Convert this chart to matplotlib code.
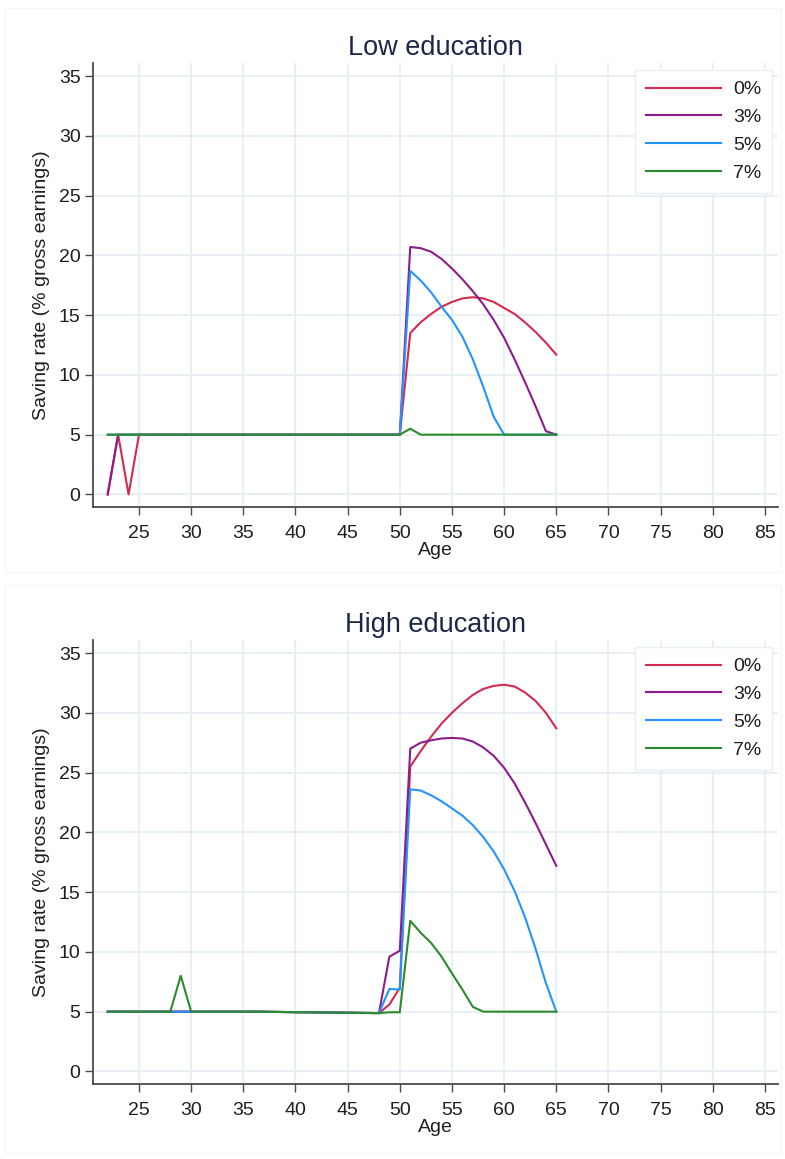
import matplotlib
matplotlib.use("Agg")
import matplotlib.pyplot as plt
from matplotlib.patches import Rectangle

plt.rcParams['font.family'] = ['Liberation Sans', 'DejaVu Sans']

# Age grid (annual, 22 to 65)
ages = list(range(22, 66))

# Saving rates (% of gross earnings) by contribution scenario, low education
low_0 = [0.0, 5.0, 0.0, 5.0,
         5.0, 5.0, 5.0, 5.0, 5.0, 5.0, 5.0, 5.0, 5.0, 5.0, 5.0, 5.0, 5.0,
         5.0, 5.0, 5.0, 5.0, 5.0, 5.0, 5.0, 5.0, 5.0, 5.0, 5.0, 5.0,
         13.5, 14.4, 15.1, 15.7, 16.1, 16.4, 16.5, 16.4, 16.1, 15.6,
         15.1, 14.4, 13.6, 12.7, 11.7]
low_3 = [0.0, 5.0, 5.0, 5.0,
         5.0, 5.0, 5.0, 5.0, 5.0, 5.0, 5.0, 5.0, 5.0, 5.0, 5.0, 5.0, 5.0,
         5.0, 5.0, 5.0, 5.0, 5.0, 5.0, 5.0, 5.0, 5.0, 5.0, 5.0, 5.0,
         20.7, 20.6, 20.3, 19.7, 18.9, 18.0, 17.0, 15.9, 14.6, 13.1,
         11.3, 9.4, 7.4, 5.3, 5.0]
low_5 = [5.0, 5.0, 5.0, 5.0,
         5.0, 5.0, 5.0, 5.0, 5.0, 5.0, 5.0, 5.0, 5.0, 5.0, 5.0, 5.0, 5.0,
         5.0, 5.0, 5.0, 5.0, 5.0, 5.0, 5.0, 5.0, 5.0, 5.0, 5.0, 5.0,
         18.7, 17.9, 16.9, 15.7, 14.6, 13.2, 11.3, 9.0, 6.5, 5.0,
         5.0, 5.0, 5.0, 5.0, 5.0]
low_7 = [5.0, 5.0, 5.0, 5.0,
         5.0, 5.0, 5.0, 5.0, 5.0, 5.0, 5.0, 5.0, 5.0, 5.0, 5.0, 5.0, 5.0,
         5.0, 5.0, 5.0, 5.0, 5.0, 5.0, 5.0, 5.0, 5.0, 5.0, 5.0, 5.0,
         5.5, 5.0, 5.0, 5.0, 5.0, 5.0, 5.0, 5.0, 5.0, 5.0,
         5.0, 5.0, 5.0, 5.0, 5.0]

# Saving rates, high education
high_0 = [5.0, 5.0, 5.0, 5.0, 5.0, 5.0, 5.0, 5.0, 5.0, 5.0, 5.0, 5.0, 5.0, 5.0,
          5.0, 4.99, 4.98, 4.97, 4.96, 4.95, 4.94, 4.93, 4.92, 4.91, 4.9, 4.89, 4.88,
          5.6, 7.0,
          25.5, 26.8, 28.0, 29.1, 30.0, 30.8, 31.5, 32.0, 32.25, 32.35,
          32.2, 31.7, 31.0, 30.0, 28.7]
high_3 = [5.0, 5.0, 5.0, 5.0, 5.0, 5.0, 5.0, 5.0, 5.0, 5.0, 5.0, 5.0, 5.0, 5.0,
          5.0, 4.99, 4.98, 4.97, 4.96, 4.95, 4.94, 4.93, 4.92, 4.91, 4.9, 4.89, 4.88,
          9.6, 10.1,
          27.0, 27.5, 27.7, 27.85, 27.9, 27.85, 27.6, 27.1, 26.4, 25.4,
          24.1, 22.5, 20.8, 19.0, 17.2]
high_5 = [5.0, 5.0, 5.0, 5.0, 5.0, 5.0, 5.0, 5.0, 5.0, 5.0, 5.0, 5.0, 5.0, 5.0,
          5.0, 4.99, 4.98, 4.97, 4.96, 4.95, 4.94, 4.93, 4.92, 4.91, 4.9, 4.89, 4.88,
          6.9, 6.85,
          23.6, 23.5, 23.1, 22.6, 22.0, 21.4, 20.6, 19.6, 18.4, 16.9,
          15.1, 12.9, 10.3, 7.4, 5.0]
high_7 = [5.0, 5.0, 5.0, 5.0, 5.0, 5.0, 5.0, 8.0, 5.0, 5.0, 5.0, 5.0, 5.0, 5.0,
          5.0, 4.99, 4.98, 4.97, 4.96, 4.95, 4.94, 4.93, 4.92, 4.91, 4.9, 4.89, 4.88,
          4.95, 4.95,
          12.6, 11.6, 10.75, 9.6, 8.2, 6.85, 5.4, 5.0, 5.0, 5.0,
          5.0, 5.0, 5.0, 5.0, 5.0]

scenario_labels = ["0%", "3%", "5%", "7%"]
scenario_colors = ["#d42a50", "#8c1c8c", "#2393ff", "#2b8b2b"]
panel_titles = ["Low education", "High education"]
panel_series = [[low_0, low_3, low_5, low_7], [high_0, high_3, high_5, high_7]]

x_ticks = list(range(25, 90, 5))
y_ticks = list(range(0, 40, 5))

W, H = 785, 1159
fig = plt.figure(figsize=(W / 100, H / 100), dpi=100)
fig.patch.set_facecolor("white")

GRID = "#e6eff2"
SPINE = "#4a4a4a"
TEXT = "#1e1e1e"
TITLE = "#1c2848"


def px_axes(left, top, right, bottom):
    return fig.add_axes([left / W, 1 - bottom / H, (right - left) / W, (bottom - top) / H])


# faint frames around each panel
for top, bottom in [(8, 572), (585, 1153)]:
    fig.patches.append(Rectangle((5 / W, 1 - bottom / H), (781 - 5) / W, (bottom - top) / H,
                                 transform=fig.transFigure, facecolor="none",
                                 edgecolor="#f4f7f8", lw=1.0, zorder=0))

offsets = [0, 577]
for title, series, off in zip(panel_titles, panel_series, offsets):
    ax = px_axes(93, 63 + off, 778, 507 + off)
    for vals, lab, col in zip(series, scenario_labels, scenario_colors):
        ax.plot(ages, vals, color=col, lw=1.5, label=lab, solid_joinstyle="round")

    ax.set_xlim(20.59, 86.25)
    ax.set_ylim(-1.05, 36.09)
    ax.set_xticks(x_ticks)
    ax.set_yticks(y_ticks)
    ax.grid(True, color=GRID, lw=1.3)
    ax.set_axisbelow(True)
    for side in ["top", "right"]:
        ax.spines[side].set_visible(False)
    for side in ["left", "bottom"]:
        ax.spines[side].set_color(SPINE)
        ax.spines[side].set_linewidth(1.3)
    ax.tick_params(axis="both", colors=SPINE, length=6, width=1.0,
                   labelsize=14, labelcolor=TEXT, pad=3)
    ax.tick_params(axis="x", pad=7)
    ax.set_xlabel("Age", fontsize=14, color=TEXT, labelpad=0)
    ax.set_ylabel("Saving rate (% gross earnings)", fontsize=14, color=TEXT, labelpad=6)
    ax.set_title(title, fontsize=19.5, color=TITLE, pad=6)

    leg = ax.legend(loc="upper right", bbox_to_anchor=((772 - 93) / 685, 1 - 7 / 444),
                    borderaxespad=0, fontsize=14, handlelength=3.87, handletextpad=0.62,
                    labelspacing=0.53, borderpad=0.55, fancybox=False, framealpha=1,
                    edgecolor=GRID)
    leg.get_frame().set_linewidth(1.0)
    for t in leg.get_texts():
        t.set_color(TEXT)

fig.savefig("out.png", dpi=100, facecolor="white")
